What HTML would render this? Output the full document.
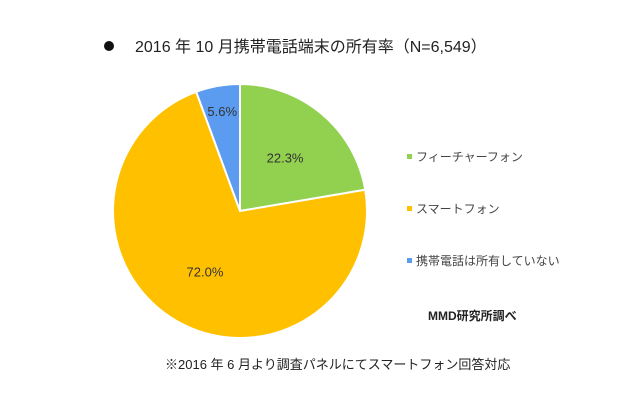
<!DOCTYPE html>
<html><head><meta charset="utf-8">
<style>
body{margin:0;background:#fff;}
svg{display:block;font-family:"Liberation Sans","Noto Sans CJK JP",sans-serif;}
</style></head>
<body>
<svg width="635" height="402" viewBox="0 0 635 402">
<circle cx="109" cy="46" r="5" fill="#111"/>
<text x="135" y="52" font-size="16" fill="#222">2016 年 10 月携帯電話端末の所有率（N=6,549）</text>
<g id="slices"></g>
<g id="legend"></g>
<text x="428" y="320" font-size="12" font-weight="bold" fill="#222">MMD研究所調べ</text>
<text x="165" y="369" font-size="13" fill="#222">※2016 年 6 月より調査パネルにてスマートフォン回答対応</text>
</svg>
<script>
const categories=["フィーチャーフォン","スマートフォン","携帯電話は所有していない"];
const values=[22.3,72.0,5.6];
const labels=["22.3%","72.0%","5.6%"];
const colors=["#92d050","#ffc000","#5b9bf0"];
const cx=240,cy=211,r=127;
const ns="http://www.w3.org/2000/svg";
const g=document.getElementById("slices");
const total=values.reduce((a,b)=>a+b,0);
function pt(frac,rad){const a=frac*2*Math.PI;return [cx+rad*Math.sin(a),cy-rad*Math.cos(a)];}
let acc=0;
values.forEach((v,i)=>{
  const s=acc/total,e=(acc+v)/total;acc+=v;
  const [x1,y1]=pt(s,r),[x2,y2]=pt(e,r);
  const p=document.createElementNS(ns,"path");
  p.setAttribute("d",`M${cx},${cy}L${x1},${y1}A${r},${r} 0 ${e-s>0.5?1:0} 1 ${x2},${y2}Z`);
  p.setAttribute("fill",colors[i]);p.setAttribute("stroke","#fff");p.setAttribute("stroke-width","2");
  
  
  g.appendChild(p);
  const [lx,ly]=pt((s+e)/2, i==2? r*0.8 : r*0.55);
  const t=document.createElementNS(ns,"text");
  t.setAttribute("x",lx);t.setAttribute("y",ly+5);t.setAttribute("text-anchor","middle");
  t.setAttribute("font-size","13");t.setAttribute("fill","#333");
  t.textContent=labels[i];
  
  
  g.appendChild(t);
});
const lg=document.getElementById("legend");
categories.forEach((c,i)=>{
  const y=158+i*52;
  const item=document.createElementNS(ns,"g");
  
  
  const rc=document.createElementNS(ns,"rect");
  rc.setAttribute("x",407);rc.setAttribute("y",y-4);rc.setAttribute("width",5);rc.setAttribute("height",5);rc.setAttribute("fill",colors[i]);
  item.appendChild(rc);
  const t=document.createElementNS(ns,"text");
  t.setAttribute("x",416);t.setAttribute("y",y+3);t.setAttribute("font-size","12");t.setAttribute("fill","#444");
  t.textContent=c;item.appendChild(t);
  lg.appendChild(item);
});
</script>
</body></html>
